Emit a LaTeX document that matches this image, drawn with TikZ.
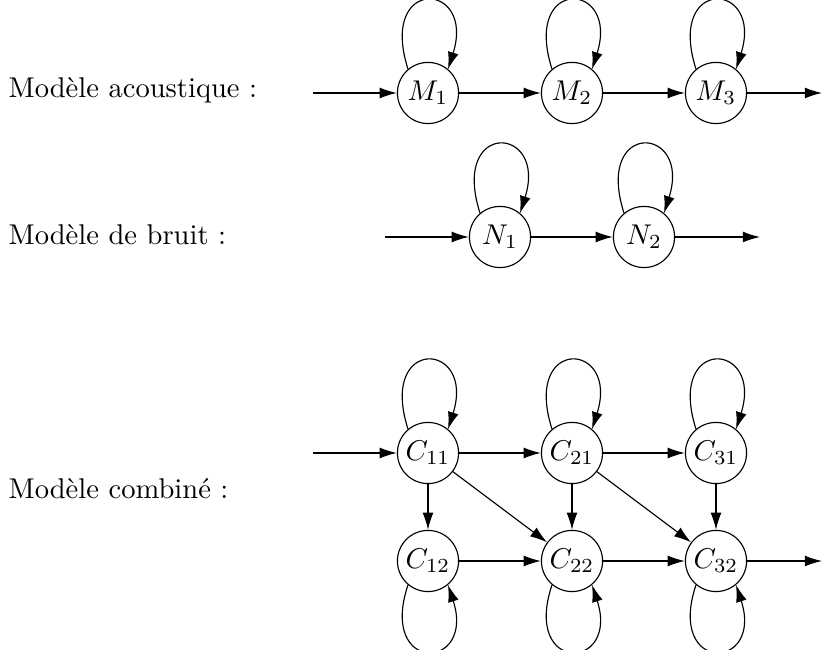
\documentclass[tikz,border=0pt]{standalone}
\usetikzlibrary{arrows.meta}
\begin{document}
\begin{tikzpicture}[x=0.35pt,y=-0.35pt,
  st/.style={circle,draw,line width=0.4pt,minimum size=21.4pt,inner sep=0.5pt},
  arr/.style={line width=0.4pt,-{Latex[length=6pt,width=3.8pt]}},
  lbl/.style={anchor=base west,inner sep=0pt}]
\useasboundingbox (0,0) rectangle (822,650);
% labels
\node[lbl] (la) at (8,98) {Modèle acoustique :};
\node[lbl] (lb) at (8,245) {Modèle de bruit :};
\node[lbl] (lc) at (8,499) {Modèle combiné :};
% acoustic
\node[st] (M1) at (428,93) {$M_1$};
\node[st] (M2) at (572,93) {$M_2$};
\node[st] (M3) at (716,93) {$M_3$};
\coordinate (ain) at (313,93);
\coordinate (aout) at (822,93);
\draw[arr] (ain) -- (M1);
\draw[arr] (M1) -- (M2);
\draw[arr] (M2) -- (M3);
\draw[arr] (M3) -- (aout);
% noise
\node[st] (N1) at (500,237) {$N_1$};
\node[st] (N2) at (644,237) {$N_2$};
\coordinate (nin) at (385,237);
\coordinate (nout) at (760,237);
\draw[arr] (nin) -- (N1);
\draw[arr] (N1) -- (N2);
\draw[arr] (N2) -- (nout);
% combined
\node[st] (C11) at (428,453) {$C_{11}$};
\node[st] (C21) at (572,453) {$C_{21}$};
\node[st] (C31) at (716,453) {$C_{31}$};
\node[st] (C12) at (428,561) {$C_{12}$};
\node[st] (C22) at (572,561) {$C_{22}$};
\node[st] (C32) at (716,561) {$C_{32}$};
\coordinate (cin) at (313,453);
\coordinate (cout) at (822,561);
\draw[arr] (cin) -- (C11);
\draw[arr] (C11) -- (C21);
\draw[arr] (C21) -- (C31);
\draw[arr] (C12) -- (C22);
\draw[arr] (C22) -- (C32);
\draw[arr] (C32) -- (cout);
\draw[arr] (C11) -- (C12);
\draw[arr] (C21) -- (C22);
\draw[arr] (C31) -- (C32);
\draw[arr] (C11) -- (C22);
\draw[arr] (C21) -- (C32);
% loops
\foreach \n in {M1,M2,M3,N1,N2,C11,C21,C31}{
  \draw[arr] (\n.130) .. controls +(-30,-94) and +(28,-88) .. (\n.50);
}
\foreach \n in {C12,C22,C32}{
  \draw[arr] (\n.230) .. controls +(-30,90) and +(28,86) .. (\n.310);
}
\end{tikzpicture}
\end{document}
